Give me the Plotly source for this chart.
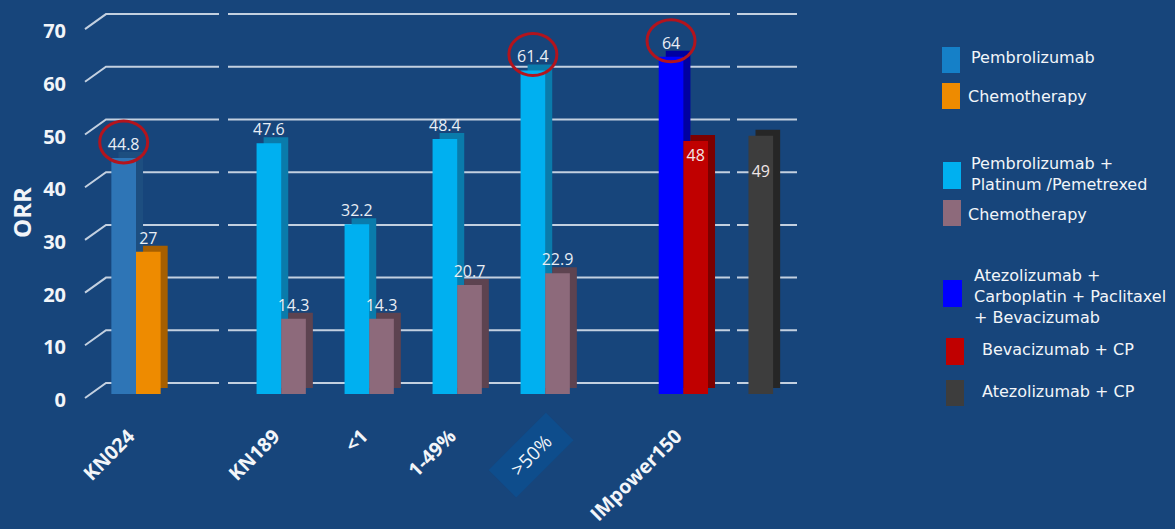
import plotly.graph_objects as go

# ---------------- data ----------------
categories = ["KN024", "KN189", "<1", "1-49%", ">50%", "IMpower150", ""]

pembro_mono = [44.8, None, None, None, None, None, None]
chemo_kn024 = [27, None, None, None, None, None, None]
pembro_platinum = [None, 47.6, 32.2, 48.4, 61.4, None, None]
chemo_kn189 = [None, 14.3, 14.3, 20.7, 22.9, None, None]
atezo_cpb = [None, None, None, None, None, 64, None]
bev_cp = [None, None, None, None, None, 48, None]
atezo_cp = [None, None, None, None, None, None, 49]

series_names = [
    "Pembrolizumab",
    "Chemotherapy",
    "Pembrolizumab +<br>Platinum /Pemetrexed",
    "Chemotherapy",
    "Atezolizumab +<br>Carboplatin + Paclitaxel<br>+ Bevacizumab",
    "Bevacizumab + CP",
    "Atezolizumab + CP",
]
series_values = [pembro_mono, chemo_kn024, pembro_platinum, chemo_kn189,
                 atezo_cpb, bev_cp, atezo_cp]
y_ticks = [0, 10, 20, 30, 40, 50, 60, 70]

# ---------------- layout / style ----------------
slot_pos = [0, 1.65, 2.65, 3.65, 4.65, 6.22, 7.1]
TICK_SHIFT = -0.08
front_colors = ["#2E75B6", "#EE8B00", "#00B0F0", "#8D6A7B", "#0000FF", "#C00000", "#3D3D3D"]
side_colors = ["#1d4e80", "#a65f00", "#0a7bab", "#5d4350", "#0000a0", "#7c0000", "#262626"]
sides = ["L", "R", "L", "R", "L", "R", "C"]
inside_label = [False, False, False, False, False, True, True]
BG = "#17457b"
BW = 0.28
DX = 0.08
DY = 1.14

W, H = 1175, 529
ML, MR, MT, MB = 85, 375, 5, 109
PW = W - ML - MR
PH = H - MT - MB
PX_PER_X = 88.0
PX_PER_Y = 5.27
ZERO_PX = 394
x_range = [-(136 - ML) / PX_PER_X, -(136 - ML) / PX_PER_X + PW / PX_PER_X]
y_range = [-(H - MB - ZERO_PX) / PX_PER_Y, (ZERO_PX - MT) / PX_PER_Y]


def offset_of(side):
    return {"L": -BW, "R": 0.0, "C": -BW / 2}[side]


fig = go.Figure()

# side/top faces (3D depth)
for vals, col, side in zip(series_values, side_colors, sides):
    xs = [slot_pos[i] for i, v in enumerate(vals) if v is not None]
    ys = [v for v in vals if v is not None]
    fig.add_trace(go.Bar(
        x=xs, y=ys, base=DY, width=BW, offset=offset_of(side) + DX,
        marker=dict(color=col, line=dict(width=0)),
        showlegend=False, hoverinfo="skip"))

# front faces
for name, vals, col, side, inside in zip(series_names, series_values, front_colors, sides, inside_label):
    xs = [slot_pos[i] for i, v in enumerate(vals) if v is not None]
    ys = [v for v in vals if v is not None]
    fig.add_trace(go.Bar(
        x=xs, y=ys, width=BW, offset=offset_of(side), name=name,
        marker=dict(color=col, line=dict(width=0)),
        text=ys,
        texttemplate=("&nbsp;<br>%{y}" if side == "C" else "%{y}"),
        textposition="inside" if inside else "outside",
        insidetextanchor="end",
        constraintext="none",
        textangle=0,
        cliponaxis=False,
        textfont=dict(family="Open Sans", size=16, color="#e9eef5"),
        outsidetextfont=dict(family="Open Sans", size=16, color="#e9eef5"),
        insidetextfont=dict(family="Open Sans", size=16, color="#f0e6e6"),
        showlegend=False))

shapes = []
# back-wall gridlines with 3D slant
for v in y_ticks:
    shapes.append(dict(
        type="path", xref="paper", yref="y", xsizemode="pixel", ysizemode="pixel",
        xanchor=0, yanchor=v,
        path="M 0,-4 L 21,11 L 134,11 M 143,11 L 645,11 M 652,11 L 712,11",
        line=dict(color="#c3d0e0", width=2), layer="below"))

# red highlight circles
highlights = [(0, 0), (4, 2), (5, 4)]  # (category index, series index)
for ci, si in highlights:
    xc = slot_pos[ci] + offset_of(sides[si]) + BW / 2
    shapes.append(dict(
        type="circle", xref="x", yref="y", xsizemode="pixel", ysizemode="pixel",
        xanchor=xc, yanchor=series_values[si][ci],
        x0=-24, x1=24, y0=-5, y1=37,
        line=dict(color="#b3141d", width=3)))


def pxx(px):
    return (px - ML) / PW


def pxy(py):
    return (H - MB - py) / PH


# manual legend
legend_swatch = [(942, 47, 960, 73), (942, 83, 960, 109), (943, 162, 961, 189),
                 (943, 200, 961, 226), (943, 280, 962, 307), (946, 338, 964, 365),
                 (946, 380, 964, 406)]
legend_text_pos = [(969, 58), (966, 97), (969, 174), (966, 214), (972, 296), (980, 349), (980, 391)]
legend_colors = ["#1580c8", "#EE8B00", "#00B0F0", "#8D6A7B", "#0000FF", "#C00000", "#3D3D3D"]
annotations = []
for name, (x0, y0, x1, y1), (tx, ty), col in zip(series_names, legend_swatch, legend_text_pos, legend_colors):
    shapes.append(dict(type="rect", xref="paper", yref="paper",
                       x0=pxx(x0), x1=pxx(x1), y0=pxy(y1), y1=pxy(y0),
                       fillcolor=col, line=dict(width=0)))
    annotations.append(dict(xref="paper", yref="paper", x=pxx(tx), y=pxy(ty),
                            xanchor="left", yanchor="middle", align="left",
                            text=name, showarrow=False,
                            font=dict(family="DejaVu Sans", size=16, color="#f2f5f9")))

# highlighted ">50%" category label with box
hl_cat = 4
annotations.append(dict(xref="x", yref="paper", x=slot_pos[hl_cat], y=0,
                        xanchor="center", yanchor="middle",
                        xshift=-14, yshift=-35, textangle=-45,
                        text="&nbsp;&nbsp;" + categories[hl_cat] + "&nbsp;&nbsp;",
                        showarrow=False, bgcolor="#0e4d8c", borderpad=6,
                        font=dict(family="Open Sans", size=19, color="#f2f5f9")))

tick_text = [("" if i == hl_cat else c) for i, c in enumerate(categories)]
tick_vals = [p + TICK_SHIFT for p in slot_pos]

fig.update_layout(
    width=W, height=H,
    margin=dict(l=ML, r=MR, t=MT, b=MB),
    paper_bgcolor=BG, plot_bgcolor=BG,
    barmode="overlay",
    showlegend=False,
    shapes=shapes,
    annotations=annotations,
    xaxis=dict(range=x_range, tickvals=tick_vals, ticktext=tick_text, automargin=False,
               tickangle=-45, showgrid=False, zeroline=False, showline=False,
               ticks="", tickfont=dict(family="Open Sans", size=19.5, color="#f2f5f9", weight="bold")),
    yaxis=dict(range=y_range, tickvals=y_ticks, showgrid=False, zeroline=False, automargin=False,
               showline=False, ticks="", ticklabelshift=6, ticklabelstandoff=18,
               tickfont=dict(family="Open Sans", size=20, color="#f2f5f9", weight="bold"),
               title=dict(text="ORR", standoff=4,
                          font=dict(family="Open Sans", size=24, color="#f2f5f9", weight="bold"))),
)

fig.write_html("out.html")
